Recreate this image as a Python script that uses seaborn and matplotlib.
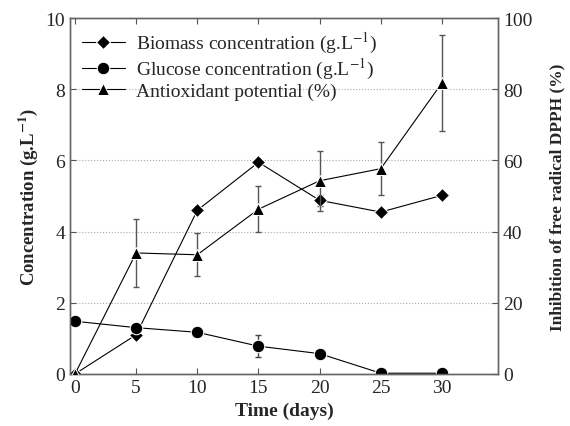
import numpy as np
import pandas as pd
import matplotlib
matplotlib.use("Agg")
import matplotlib.pyplot as plt
import seaborn as sns

# --- data ---
days = [0, 5, 10, 15, 20, 25, 30]
biomass = [0.0, 1.1, 4.6, 5.95, 4.88, 4.55, 5.02]
biomass_err = [0, 0, 0, 0, 0.15, 0, 0]
glucose = [1.48, 1.3, 1.17, 0.78, 0.57, 0.02, 0.02]
glucose_err = [0, 0, 0, 0.3, 0, 0, 0]
antiox = [0.0, 34.0, 33.5, 46.3, 54.3, 57.7, 81.8]
antiox_err = [0, 9.5, 6.0, 6.5, 8.5, 7.5, 13.5]

sns.set_style("ticks")
plt.rcParams['font.family'] = ['Liberation Serif', 'DejaVu Serif']
plt.rcParams['mathtext.fontset'] = 'stix'

fig = plt.figure(figsize=(5.7, 4.27), dpi=100)
ax = fig.add_axes([0.123, 0.122, 0.751, 0.833])
ax2 = ax.twinx()

df = pd.DataFrame({'day': days, 'biomass': biomass, 'glucose': glucose, 'antiox': antiox,
                   'biomass_err': biomass_err, 'glucose_err': glucose_err, 'antiox_err': antiox_err})


def add_errors(a, col, color):
    # draw only the bars that exist, behind the markers
    d = df[df[col + '_err'] > 0]
    a.errorbar(d['day'], d[col], yerr=d[col + '_err'], fmt='none', ecolor=color,
               elinewidth=1, capsize=2, zorder=1)


# left axis: concentrations
sns.lineplot(data=df, x='day', y='biomass', ax=ax, color='black', lw=0.8, zorder=3,
             marker='D', markersize=7, label='Biomass concentration (g.L$^{-1}$)', legend=False)
sns.lineplot(data=df, x='day', y='glucose', ax=ax, color='black', lw=0.8, zorder=3,
             marker='o', markersize=9, label='Glucose concentration (g.L$^{-1}$)', legend=False)
add_errors(ax, 'biomass', '#444444')
add_errors(ax, 'glucose', '#444444')

# right axis: antioxidant potential
sns.lineplot(data=df, x='day', y='antiox', ax=ax2, color='black', lw=0.8, zorder=3,
             marker='^', markersize=9, label='Antioxidant potential (%)', legend=False)
add_errors(ax2, 'antiox', '#555555')

ax.set_xlim(-0.4, 34.6)
ax.set_ylim(0, 10)
ax2.set_ylim(0, 100)
ax.set_xticks([0, 5, 10, 15, 20, 25, 30])
ax.set_yticks([0, 2, 4, 6, 8, 10])
ax2.set_yticks([0, 20, 40, 60, 80, 100])

ax.yaxis.grid(True, linestyle=':', color='#aaaaaa', lw=0.8)
ax.set_axisbelow(True)

ax.tick_params(direction='in', top=True, labelsize=14, color='#555555', length=4)
ax2.tick_params(direction='in', labelsize=14, color='#555555', length=4)
for a in (ax, ax2):
    for s in a.spines.values():
        s.set_color('#666666')
        s.set_linewidth(1)

ax.set_xlabel('Time (days)', fontsize=14, fontweight='bold')
ax.set_ylabel('Concentration (g.L$^{\\mathbf{-1}}$)', fontsize=13.5, fontweight='bold')
ax2.set_ylabel('Inhibition of free radical DPPH (%)', fontsize=12.5, fontweight='bold', labelpad=12)

h1, l1 = ax.get_legend_handles_labels()
h2, l2 = ax2.get_legend_handles_labels()
ax.legend(h1 + h2, l1 + l2, loc='upper left', frameon=False, fontsize=14,
          handlelength=2.2, borderaxespad=0.2, labelspacing=0.05, handletextpad=0.6)

fig.savefig('out.png', dpi=100)
